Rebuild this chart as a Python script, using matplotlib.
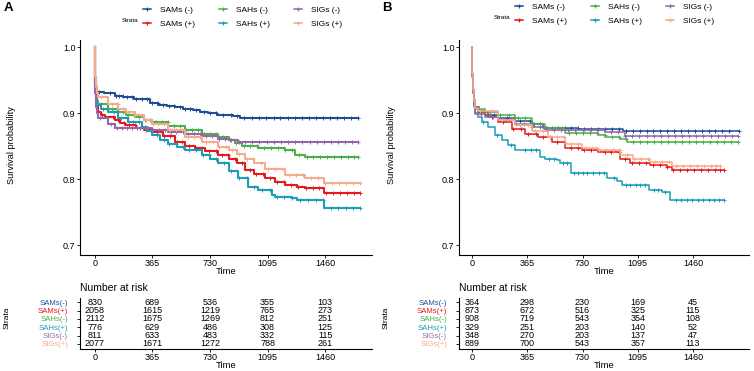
# KM survival curves with number-at-risk tables, two panels (A / B)
import numpy as np
import matplotlib.pyplot as plt
from matplotlib.lines import Line2D

plt.rcParams['font.family'] = ['Liberation Sans', 'DejaVu Sans']

W, H = 754, 371

strata = ['SAMs (-)', 'SAMs (+)', 'SAHs (-)', 'SAHs (+)', 'SIGs (-)', 'SIGs (+)']
table_labels = ['SAMs(-)', 'SAMs(+)', 'SAHs(-)', 'SAHs(+)', 'SIGs(-)', 'SIGs(+)']
colors = ['#1F4E97', '#E41A1C', '#4DAF4A', '#1C9DB7', '#9467A9', '#F7AA8C']
risk_times = [0, 365, 730, 1095, 1460]

# ===== Panel A: step points (time, survival) and censor times =====
a_sams_neg_t = [0, 1, 3, 6, 10, 60, 127, 180, 250, 349, 400, 455, 510, 560, 620, 666, 720, 772, 830, 878, 920, 1300, 1450, 1672]
a_sams_neg_s = [1.0, 0.975, 0.955, 0.94, 0.932, 0.931, 0.926, 0.924, 0.921, 0.915, 0.913, 0.911, 0.909, 0.907, 0.905, 0.902, 0.900, 0.898, 0.897, 0.896, 0.893, 0.8925, 0.892, 0.892]
a_sams_neg_c = [28, 95, 132, 150, 176, 205, 238, 262, 301, 333, 362, 398, 430, 467, 502, 538, 571, 604, 641, 689, 731, 768, 812, 861, 903, 948, 995, 1040, 1087, 1133, 1176, 1224, 1268, 1311, 1358, 1402, 1447, 1493, 1538, 1581, 1626, 1672]

a_sams_pos_t = [0, 1, 3, 6, 10, 21, 40, 63, 127, 160, 190, 260, 310, 360, 430, 508, 570, 635, 700, 783, 853, 900, 952, 1010, 1079, 1140, 1206, 1280, 1333, 1455, 1682]
a_sams_pos_s = [1.0, 0.97, 0.945, 0.925, 0.912, 0.902, 0.898, 0.894, 0.889, 0.885, 0.882, 0.878, 0.875, 0.872, 0.865, 0.8565, 0.851, 0.8465, 0.842, 0.8364, 0.830, 0.824, 0.814, 0.808, 0.801, 0.795, 0.791, 0.788, 0.786, 0.779, 0.779]
a_sams_pos_c = [45, 112, 148, 183, 214, 251, 287, 322, 358, 395, 441, 476, 519, 553, 598, 642, 681, 723, 769, 806, 847, 889, 934, 981, 1024, 1069, 1112, 1158, 1199, 1245, 1291, 1337, 1382, 1421, 1468, 1512, 1555, 1601, 1642, 1682]

a_sahs_neg_t = [0, 1, 3, 6, 10, 21, 85, 148, 200, 254, 310, 360, 466, 571, 677, 783, 853, 890, 931, 1037, 1206, 1270, 1333, 1672]
a_sahs_neg_s = [1.0, 0.97, 0.945, 0.928, 0.918, 0.9147, 0.907, 0.902, 0.898, 0.894, 0.890, 0.887, 0.880, 0.874, 0.869, 0.864, 0.860, 0.855, 0.850, 0.8465, 0.844, 0.836, 0.834, 0.834]
a_sahs_neg_c = [38, 105, 141, 178, 209, 246, 281, 318, 352, 390, 427, 463, 501, 540, 577, 615, 652, 694, 733, 771, 815, 856, 897, 943, 986, 1031, 1073, 1118, 1163, 1207, 1251, 1297, 1343, 1385, 1430, 1474, 1520, 1563, 1606, 1645, 1672]

a_sahs_pos_t = [0, 1, 3, 6, 10, 40, 85, 148, 212, 296, 330, 360, 410, 466, 520, 571, 677, 730, 783, 853, 910, 973, 1037, 1122, 1143, 1249, 1280, 1455, 1682]
a_sahs_pos_s = [1.0, 0.97, 0.945, 0.925, 0.912, 0.907, 0.902, 0.892, 0.887, 0.879, 0.873, 0.8667, 0.860, 0.854, 0.849, 0.844, 0.836, 0.831, 0.8238, 0.813, 0.801, 0.7884, 0.7833, 0.7758, 0.7723, 0.771, 0.768, 0.757, 0.757]
a_sahs_pos_c = [52, 121, 166, 203, 242, 279, 317, 355, 392, 436, 472, 514, 559, 597, 638, 684, 726, 770, 818, 866, 915, 967, 1012, 1063, 1109, 1157, 1201, 1252, 1303, 1352, 1401, 1446, 1497, 1545, 1592, 1639, 1682]

a_sigs_neg_t = [0, 1, 3, 6, 10, 21, 85, 127, 254, 360, 466, 571, 680, 783, 853, 910, 1672]
a_sigs_neg_s = [1.0, 0.96, 0.93, 0.91, 0.90, 0.892, 0.884, 0.878, 0.877, 0.875, 0.8717, 0.868, 0.865, 0.8616, 0.860, 0.856, 0.856]
a_sigs_neg_c = [33, 99, 137, 170, 201, 234, 268, 302, 338, 371, 407, 445, 482, 517, 556, 592, 631, 668, 706, 745, 786, 824, 866, 911, 952, 998, 1043, 1089, 1134, 1180, 1226, 1271, 1316, 1362, 1408, 1452, 1497, 1541, 1586, 1630, 1672]

a_sigs_pos_t = [0, 1, 3, 6, 10, 21, 85, 148, 200, 254, 310, 360, 466, 571, 677, 783, 853, 900, 952, 1010, 1079, 1206, 1333, 1455, 1682]
a_sigs_pos_s = [1.0, 0.975, 0.955, 0.94, 0.93, 0.925, 0.9147, 0.907, 0.902, 0.897, 0.890, 0.884, 0.874, 0.864, 0.8565, 0.849, 0.844, 0.838, 0.8313, 0.824, 0.816, 0.806, 0.8025, 0.794, 0.794]
a_sigs_pos_c = [41, 108, 144, 181, 218, 255, 290, 327, 366, 403, 438, 479, 516, 551, 590, 629, 667, 707, 748, 789, 829, 872, 917, 962, 1006, 1051, 1095, 1141, 1186, 1232, 1277, 1322, 1369, 1414, 1461, 1506, 1551, 1596, 1640, 1682]

# number at risk, panel A
a_risk_sams_neg = [830, 689, 536, 355, 103]
a_risk_sams_pos = [2058, 1615, 1219, 765, 273]
a_risk_sahs_neg = [2112, 1675, 1269, 812, 251]
a_risk_sahs_pos = [776, 629, 486, 308, 125]
a_risk_sigs_neg = [811, 633, 483, 332, 115]
a_risk_sigs_pos = [2077, 1671, 1272, 788, 261]

# ===== Panel B =====
b_sams_neg_t = [0, 2, 5, 10, 20, 45, 86, 174, 284, 394, 471, 700, 1000, 1762]
b_sams_neg_s = [1.0, 0.96, 0.935, 0.92, 0.91, 0.903, 0.898, 0.893, 0.888, 0.884, 0.878, 0.876, 0.873, 0.873]
b_sams_neg_c = [61, 148, 232, 318, 386, 412, 447, 489, 531, 570, 612, 655, 699, 743, 788, 834, 880, 925, 971, 1016, 1062, 1107, 1153, 1198, 1244, 1290, 1335, 1381, 1426, 1472, 1517, 1563, 1608, 1654, 1700, 1762]

b_sams_pos_t = [0, 2, 5, 10, 20, 42, 108, 174, 262, 350, 438, 526, 614, 725, 834, 978, 1044, 1176, 1286, 1319, 1663]
b_sams_pos_s = [1.0, 0.96, 0.935, 0.918, 0.908, 0.902, 0.894, 0.887, 0.8768, 0.869, 0.864, 0.8565, 0.8465, 0.844, 0.8414, 0.8313, 0.8247, 0.821, 0.8187, 0.8136, 0.8136]
b_sams_pos_c = [55, 131, 204, 270, 322, 371, 423, 468, 514, 561, 606, 652, 698, 741, 788, 832, 877, 921, 968, 1012, 1058, 1103, 1149, 1195, 1240, 1286, 1331, 1377, 1422, 1468, 1514, 1559, 1605, 1640, 1663]

b_sahs_neg_t = [0, 2, 5, 10, 20, 86, 174, 284, 394, 482, 614, 834, 879, 978, 1022, 1760]
b_sahs_neg_s = [1.0, 0.96, 0.935, 0.918, 0.907, 0.902, 0.897, 0.892, 0.884, 0.877, 0.870, 0.8677, 0.864, 0.8616, 0.8565, 0.8565]
b_sahs_neg_c = [48, 117, 186, 247, 301, 352, 403, 451, 498, 545, 592, 640, 688, 735, 781, 829, 876, 922, 969, 1015, 1061, 1108, 1154, 1200, 1247, 1293, 1339, 1386, 1432, 1478, 1525, 1571, 1618, 1664, 1710, 1760]

b_sahs_pos_t = [0, 2, 5, 10, 20, 42, 64, 108, 152, 196, 240, 284, 449, 482, 559, 581, 654, 892, 956, 989, 1167, 1255, 1310, 1663]
b_sahs_pos_s = [1.0, 0.96, 0.93, 0.91, 0.90, 0.894, 0.887, 0.879, 0.8667, 0.859, 0.8515, 0.844, 0.834, 0.8313, 0.829, 0.8247, 0.810, 0.801, 0.797, 0.791, 0.784, 0.780, 0.769, 0.769]
b_sahs_pos_c = [72, 166, 259, 351, 392, 426, 508, 539, 603, 630, 676, 701, 735, 762, 799, 837, 871, 938, 1015, 1046, 1083, 1112, 1141, 1203, 1232, 1275, 1347, 1381, 1418, 1452, 1491, 1526, 1563, 1598, 1632, 1663]

b_sigs_neg_t = [0, 2, 5, 10, 20, 86, 174, 284, 394, 482, 614, 879, 1011, 1760]
b_sigs_neg_s = [1.0, 0.955, 0.93, 0.912, 0.8995, 0.894, 0.889, 0.884, 0.879, 0.875, 0.874, 0.8717, 0.865, 0.865]
b_sigs_neg_c = [58, 140, 219, 289, 343, 397, 446, 494, 541, 588, 636, 683, 730, 777, 824, 871, 918, 965, 1012, 1059, 1106, 1153, 1200, 1247, 1294, 1341, 1388, 1435, 1482, 1529, 1576, 1623, 1670, 1716, 1760]

b_sigs_pos_t = [0, 2, 5, 10, 20, 42, 174, 284, 394, 504, 614, 725, 834, 978, 1064, 1176, 1319, 1640]
b_sigs_pos_s = [1.0, 0.96, 0.935, 0.918, 0.908, 0.904, 0.890, 0.882, 0.873, 0.864, 0.854, 0.848, 0.844, 0.8364, 0.8313, 0.826, 0.820, 0.820]
b_sigs_pos_c = [51, 124, 198, 262, 316, 369, 418, 466, 513, 559, 606, 653, 699, 746, 792, 838, 885, 931, 977, 1024, 1070, 1117, 1163, 1209, 1256, 1302, 1349, 1395, 1441, 1488, 1534, 1580, 1610, 1640]

b_risk_sams_neg = [364, 298, 230, 169, 45]
b_risk_sams_pos = [873, 672, 516, 325, 115]
b_risk_sahs_neg = [908, 719, 543, 354, 108]
b_risk_sahs_pos = [329, 251, 203, 140, 52]
b_risk_sigs_neg = [348, 270, 203, 137, 47]
b_risk_sigs_pos = [889, 700, 543, 357, 113]

panel_a = [(a_sams_neg_t, a_sams_neg_s, a_sams_neg_c), (a_sams_pos_t, a_sams_pos_s, a_sams_pos_c),
           (a_sahs_neg_t, a_sahs_neg_s, a_sahs_neg_c), (a_sahs_pos_t, a_sahs_pos_s, a_sahs_pos_c),
           (a_sigs_neg_t, a_sigs_neg_s, a_sigs_neg_c), (a_sigs_pos_t, a_sigs_pos_s, a_sigs_pos_c)]
panel_b = [(b_sams_neg_t, b_sams_neg_s, b_sams_neg_c), (b_sams_pos_t, b_sams_pos_s, b_sams_pos_c),
           (b_sahs_neg_t, b_sahs_neg_s, b_sahs_neg_c), (b_sahs_pos_t, b_sahs_pos_s, b_sahs_pos_c),
           (b_sigs_neg_t, b_sigs_neg_s, b_sigs_neg_c), (b_sigs_pos_t, b_sigs_pos_s, b_sigs_pos_c)]
risk_a = [a_risk_sams_neg, a_risk_sams_pos, a_risk_sahs_neg, a_risk_sahs_pos, a_risk_sigs_neg, a_risk_sigs_pos]
risk_b = [b_risk_sams_neg, b_risk_sams_pos, b_risk_sahs_neg, b_risk_sahs_pos, b_risk_sigs_neg, b_risk_sigs_pos]


def fx(x):
    return x / W


def fy(y):
    return 1 - y / H


def style_axis(ax):
    for s in ['top', 'right']:
        ax.spines[s].set_visible(False)
    for s in ['left', 'bottom']:
        ax.spines[s].set_linewidth(0.8)
    ax.tick_params(direction='out', length=2, width=0.6, pad=1.2, labelsize=6.5)


def draw_panel(x0, width, xlim, curves, risk, label, leg_x, leg_y, lw):
    # main survival plot
    ax = fig.add_axes([fx(x0), fy(255), width / W, 215 / H])
    for (t, s, c), col in zip(curves, colors):
        t = np.asarray(t, float)
        s = np.asarray(s, float)
        ax.step(t, s, where='post', color=col, lw=lw)
        c = np.asarray(c, float)
        sc = s[np.searchsorted(t, c, side='right') - 1]
        ax.plot(c, sc, ls='none', marker='+', color=col, ms=3.5, mew=0.7)
    ax.set_xlim(*xlim)
    ax.set_ylim(0.685, 1.011)
    ax.set_xticks(risk_times)
    ax.set_yticks([0.7, 0.8, 0.9, 1.0])
    ax.set_yticklabels(['0.7', '0.8', '0.9', '1.0'])
    style_axis(ax)

    # number at risk table
    rt = fig.add_axes([fx(x0), fy(349), width / W, 51 / H])
    rows = [5, 4, 3, 2, 1, 0]
    for vals, r in zip(risk, rows):
        for tt, v in zip(risk_times, vals):
            rt.text(tt, r, str(v), ha='center', va='center', fontsize=6.5)
    rt.set_xlim(*xlim)
    rt.set_ylim(-0.6, 5.5)
    rt.set_xticks(risk_times)
    rt.set_yticks(rows)
    rt.set_yticklabels(table_labels)
    style_axis(rt)
    rt.tick_params(axis='y', length=2.5, pad=6, labelsize=5.6)
    for tl, col in zip(rt.get_yticklabels(), colors):
        tl.set_color(col)

    xc = x0 + width / 2
    fig.text(fx(x0), fy(288), 'Number at risk', ha='left', va='center', fontsize=7.5)
    fig.text(fx(xc), fy(272), 'Time', ha='center', va='center', fontsize=6.8)
    fig.text(fx(xc), fy(366), 'Time', ha='center', va='center', fontsize=6.8)
    fig.text(fx(x0 - 68), fy(145), 'Survival probability', rotation=90,
             ha='center', va='center', fontsize=6.6)
    fig.text(fx(x0 - 73), fy(318), 'Strata', rotation=90,
             ha='center', va='center', fontsize=6)
    fig.text(fx(x0 - 72), fy(8), label, ha='center', va='center',
             fontsize=9.5, fontweight='bold')

    # legend
    handles = [Line2D([0], [0], color=col, lw=1.1, marker='+', ms=3, mew=0.8) for col in colors]
    fig.legend(handles, strata, loc='upper left', bbox_to_anchor=(fx(leg_x), fy(leg_y)),
               ncol=3, frameon=False, fontsize=6, handlelength=1.0, handletextpad=1.1,
               columnspacing=2.8, labelspacing=0.7, borderpad=0, borderaxespad=0)
    fig.text(fx(leg_x - 21), fy(leg_y + 14), 'Strata', ha='left', va='center', fontsize=4.5)


fig = plt.figure(figsize=(W / 100, H / 100), dpi=100)
draw_panel(80, 292, (-95, 1758), panel_a, risk_a, 'A', 143, 6.5, 1.5)
draw_panel(459, 290, (-86, 1830), panel_b, risk_b, 'B', 515, 3.2, 1.1)

fig.savefig('out.png', dpi=100, facecolor='white')
